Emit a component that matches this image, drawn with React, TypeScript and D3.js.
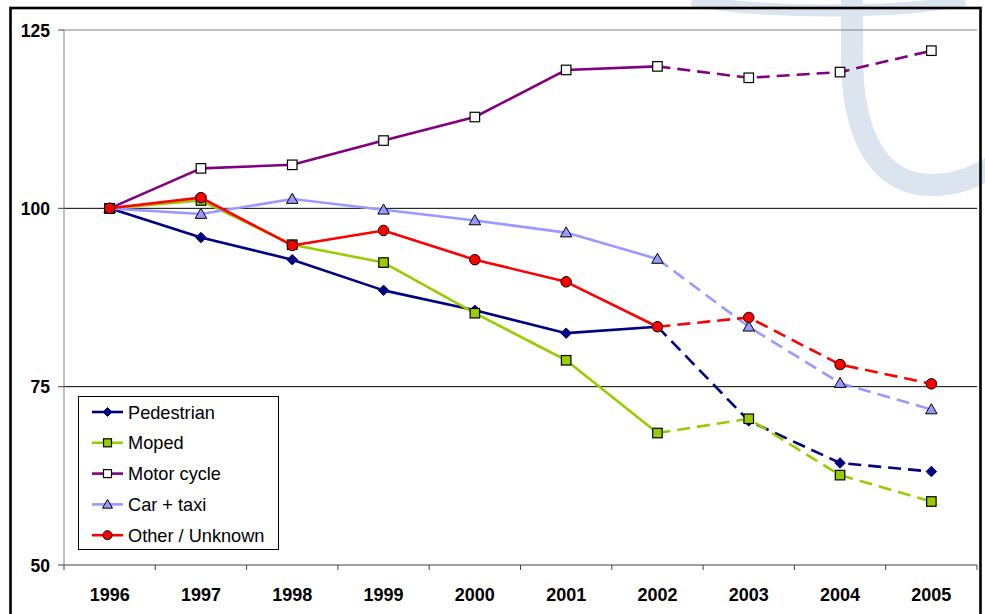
import React from "react";
import * as d3 from "d3";

const years = ["1996", "1997", "1998", "1999", "2000", "2001", "2002", "2003", "2004", "2005"];
const pedestrian = [100, 95.9, 92.8, 88.5, 85.7, 82.5, 83.4, 70.2, 64.3, 63.1];
const moped = [100, 101.1, 94.9, 92.4, 85.3, 78.7, 68.5, 70.5, 62.6, 58.9];
const motorCycle = [100, 105.6, 106.1, 109.5, 112.8, 119.4, 119.9, 118.3, 119.1, 122.1];
const carTaxi = [100, 99.2, 101.3, 99.8, 98.3, 96.6, 92.9, 83.4, 75.5, 71.8];
const otherUnknown = [100, 101.5, 94.8, 96.9, 92.8, 89.7, 83.4, 84.7, 78.1, 75.4];
const yTicks = [50, 75, 100, 125];
const gridValues = [75, 100];
// index of the last year drawn with a solid line; later years are dashed
const solidUntil = 6;

type Shape = "diamond" | "square" | "triangle" | "circle";
const series: { name: string; values: number[]; color: string; fill: string; mStroke: string; shape: Shape }[] = [
  { name: "Pedestrian", values: pedestrian, color: "#000080", fill: "#000080", mStroke: "#000080", shape: "diamond" },
  { name: "Moped", values: moped, color: "#99CC00", fill: "#99CC00", mStroke: "#000000", shape: "square" },
  { name: "Motor cycle", values: motorCycle, color: "#800080", fill: "#FFFFFF", mStroke: "#000000", shape: "square" },
  { name: "Car + taxi", values: carTaxi, color: "#9999FF", fill: "#9999FF", mStroke: "#000000", shape: "triangle" },
  { name: "Other / Unknown", values: otherUnknown, color: "#FF0000", fill: "#FF0000", mStroke: "#000000", shape: "circle" },
];

const W = 985;
const H = 614;
const left = 64;
const right = 977;
const top = 30;
const bottom = 565;
const font = "'Liberation Sans', Arial, Helvetica, sans-serif";

function Marker({ shape, cx, cy, fill, stroke, s }: { shape: Shape; cx: number; cy: number; fill: string; stroke: string; s: number }) {
  if (shape === "circle") return <circle cx={cx} cy={cy} r={s / 2 + 0.5} fill={fill} stroke={stroke} strokeWidth={1} />;
  if (shape === "square")
    return <rect x={cx - s / 2} y={cy - s / 2} width={s} height={s} fill={fill} stroke={stroke} strokeWidth={1.2} />;
  if (shape === "diamond") {
    const r = s / 2 + 0.5;
    return <path d={`M${cx},${cy - r}L${cx + r},${cy}L${cx},${cy + r}L${cx - r},${cy}Z`} fill={fill} stroke={stroke} strokeWidth={1} />;
  }
  const r = s / 2 + 1;
  return (
    <path
      d={`M${cx},${cy - r}L${cx + r},${cy + r * 0.75}L${cx - r},${cy + r * 0.75}Z`}
      fill={fill}
      stroke={stroke}
      strokeWidth={1}
    />
  );
}

export default function App() {
  const x = d3.scaleBand<string>().domain(years).range([left, right]).padding(0);
  const bw = x.bandwidth();
  const cx = (yr: string) => (x(yr) as number) + bw / 2;
  const y = d3.scaleLinear().domain([50, 125]).range([bottom, top]);

  const line = d3
    .line<[string, number]>()
    .x((d) => cx(d[0]))
    .y((d) => y(d[1]));

  const boundaries = years.map((yr) => x(yr) as number).concat([right]);

  return (
    <svg
      width={W}
      height={H}
      viewBox={`0 0 ${W} ${H}`}
      style={{ position: "absolute", left: 0, top: 0, background: "#fff" }}
    >
      {/* background logo strokes */}
      <g fill="none" stroke="#DCE4F0" strokeLinecap="butt">
        <path d="M852,-20 L852,55 C852,142 882,185 932,185 C957,185 975,177 995,165" strokeWidth={22} />
        <path d="M692,0 C760,14 900,14 965,0" strokeWidth={12} />
      </g>

      {/* outer frame */}
      <rect x={10.5} y={8} width={970} height={640} fill="none" stroke="#000" strokeWidth={2.6} />

      {/* plot border and grid */}
      <line x1={left} x2={right} y1={y(125)} y2={y(125)} stroke="#808080" strokeWidth={1} />
      {gridValues.map((v) => (
        <line key={v} x1={left} x2={right} y1={y(v)} y2={y(v)} stroke="#000" strokeWidth={1} />
      ))}
      <line x1={left} x2={left} y1={top} y2={bottom} stroke="#808080" strokeWidth={1} />
      <line x1={left} x2={right} y1={bottom} y2={bottom} stroke="#404040" strokeWidth={1} />

      {/* y axis ticks and labels */}
      {yTicks.map((v) => (
        <g key={v}>
          <line x1={left - 6} x2={left} y1={y(v)} y2={y(v)} stroke="#404040" strokeWidth={1} />
          <text
            x={50}
            y={y(v) + 6.5}
            textAnchor="end"
            fontFamily={font}
            fontWeight="bold"
            fontSize={17.5}
            fill="#000"
          >
            {v}
          </text>
        </g>
      ))}

      {/* x axis ticks and labels */}
      {boundaries.map((b, i) => (
        <line key={i} x1={b} x2={b} y1={bottom} y2={bottom + 5} stroke="#404040" strokeWidth={1} />
      ))}
      {years.map((yr) => (
        <text
          key={yr}
          x={cx(yr)}
          y={600.5}
          textAnchor="middle"
          fontFamily={font}
          fontWeight="bold"
          fontSize={18}
          fill="#000"
        >
          {yr}
        </text>
      ))}

      {/* series */}
      {series.map((s) => {
        const pts = years.map((yr, i) => [yr, s.values[i]] as [string, number]);
        const solid = pts.slice(0, solidUntil + 1);
        const dashed = pts.slice(solidUntil);
        return (
          <g key={s.name}>
            <path d={line(solid) || ""} fill="none" stroke={s.color} strokeWidth={2.6} strokeLinejoin="round" />
            <path d={line(dashed) || ""} fill="none" stroke={s.color} strokeWidth={2.6} strokeDasharray="13,7" />
            {pts.map((p) => (
              <Marker key={p[0]} shape={s.shape} cx={cx(p[0])} cy={y(p[1])} fill={s.fill} stroke={s.mStroke} s={9.5} />
            ))}
          </g>
        );
      })}

      {/* legend */}
      <g>
        <rect x={78.5} y={396.5} width={200} height={153} fill="#fff" stroke="#000" strokeWidth={1} />
        {series.map((s, i) => {
          const ly = 412 + i * 30.8;
          return (
            <g key={s.name}>
              <line x1={92} x2={123} y1={ly} y2={ly} stroke={s.color} strokeWidth={2.6} />
              <Marker shape={s.shape} cx={107.5} cy={ly} fill={s.fill} stroke={s.mStroke} s={8} />
              <text x={128} y={ly + 6.5} fontFamily={font} fontSize={18.2} fill="#000">
                {s.name}
              </text>
            </g>
          );
        })}
      </g>
    </svg>
  );
}
